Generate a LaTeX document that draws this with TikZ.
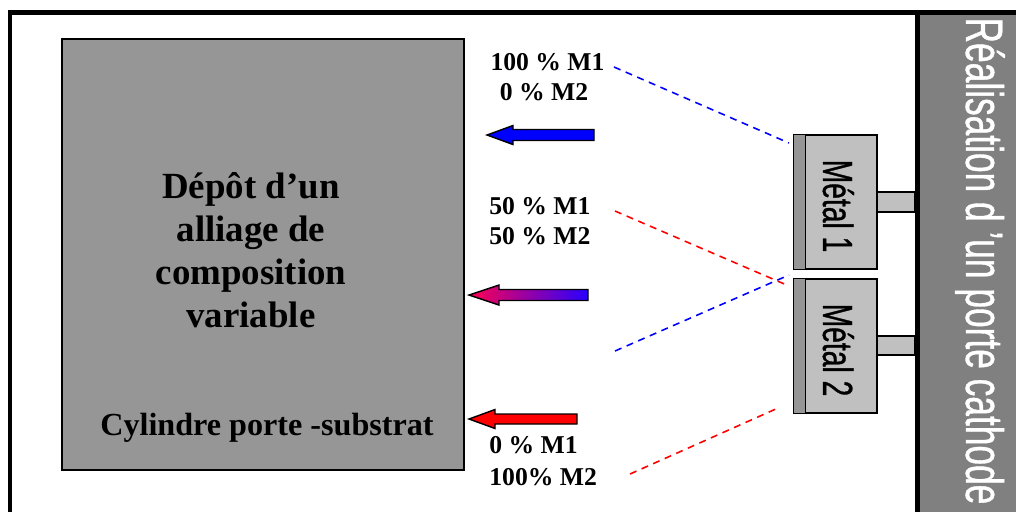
\documentclass[tikz,border=0pt]{standalone}
\usepackage{fontspec}
\setmainfont{Liberation Serif}
\setsansfont{Liberation Sans}
\newfontfamily\narrowsans[FakeStretch=0.67,FakeBold=0.7]{Liberation Sans}
\usepackage{tikz}
\usetikzlibrary{positioning,calc}
\definecolor{substratgray}{RGB}{150,150,150}
\definecolor{metalgray}{RGB}{192,192,192}
\definecolor{panelgray}{RGB}{128,128,128}
\definecolor{mixred}{RGB}{255,0,80}
\definecolor{mixblue}{RGB}{40,0,255}

\tikzset{
  pct/.style={font=\bfseries\fontsize{14.6}{17}\selectfont, inner sep=0pt},
  metal/.style={draw=black, fill=metalgray, line width=0.8pt, minimum width=1.66cm, minimum height=2.68cm, inner sep=0pt},
  metallabel/.style={font=\narrowsans\fontsize{24}{28}\selectfont, rotate=-90, anchor=base, inner sep=0pt},
  stub/.style={draw=black, fill=metalgray, line width=0.8pt},
  flux/.style={draw=black, line width=0.8pt},
  trace/.style={line width=0.9pt, dash pattern=on 4pt off 3.2pt},
}

\begin{document}
\begin{tikzpicture}[x=0.02cm,y=-0.02cm]
\useasboundingbox (0,0) rectangle (1016,512);
\fill[white] (0,0) rectangle (1016,512);

% porte cathode
\fill[panelgray] (920,15) rectangle (1016,512);
\node[font=\narrowsans\fontsize{30}{34}\selectfont, text=white, rotate=-90, anchor=base, inner sep=0pt] (porte) at (966,261) {Réalisation d ’un porte cathode};

% cadre
\draw[line width=0.1cm] (10,512) -- (10,12.5) -- (1016,12.5);
\draw[line width=0.1cm] (917.5,12.5) -- (917.5,512);

% cylindre porte-substrat
\node[draw=black, fill=substratgray, line width=0.9pt, minimum width=8.04cm, minimum height=8.62cm] (substrat) at (263,254.5) {};
\node[font=\bfseries\fontsize{21}{24.5}\selectfont, align=center] (depot) at (251,250) {Dépôt d’un\\alliage de\\composition\\variable};
\node[font=\bfseries\fontsize{18.3}{22}\selectfont, anchor=base, inner sep=0pt] (cyl) at (267,435) {Cylindre porte -substrat};

% compositions
\node[pct, anchor=base] (c1a) at (547.5,70) {100 \% M1};
\node[pct, anchor=base] (c1b) at (544,100) {0 \% M2};
\node[pct, anchor=base west] (c2a) at (489,214) {50 \% M1};
\node[pct, anchor=base west] (c2b) at (489,244) {50 \% M2};
\node[pct, anchor=base west] (c3a) at (489,453) {0 \% M1};
\node[pct, anchor=base west] (c3b) at (489,485) {100\% M2};

% fleches de flux
\draw[flux, fill=blue] (487,135) -- (513,125.5) -- (513,129.5) -- (594,129.5) -- (594,140.5) -- (513,140.5) -- (513,144.5) -- cycle;
\draw[flux, left color=mixred, right color=mixblue] (469,295) -- (499,285) -- (499,289.5) -- (588,289.5) -- (588,300.5) -- (499,300.5) -- (499,305) -- cycle;
\draw[flux, fill=red] (469,419) -- (495,409.5) -- (495,414) -- (577,414) -- (577,424) -- (495,424) -- (495,428.5) -- cycle;

% cibles
\node[metal] (m1) at (835.5,202) {};
\fill[substratgray] (m1.north west) rectangle ($(m1.south west)+(12,0)$);
\draw[line width=0.8pt] ($(m1.north west)+(12,0)$) -- ($(m1.south west)+(12,0)$);
\draw[line width=0.8pt] (m1.north west) rectangle (m1.south east);
\node[metallabel] (l1) at (823,206) {Métal 1};

\node[metal] (m2) at (835.5,346) {};
\fill[substratgray] (m2.north west) rectangle ($(m2.south west)+(12,0)$);
\draw[line width=0.8pt] ($(m2.north west)+(12,0)$) -- ($(m2.south west)+(12,0)$);
\draw[line width=0.8pt] (m2.north west) rectangle (m2.south east);
\node[metallabel] (l2) at (823,350) {Métal 2};

\draw[stub] (m1.east |- 0,192) rectangle (915,212);
\draw[stub] (m2.east |- 0,336) rectangle (915,355);

% trajets
\coordinate (b1s) at (614,67);
\coordinate (b1e) at (789,143);
\coordinate (r1s) at (615,211);
\coordinate (r1e) at (789,286);
\coordinate (b2s) at (615,351);
\coordinate (b2e) at (789,275);
\coordinate (r2s) at (630,474);
\coordinate (r2e) at (778,408);
\draw[trace, blue] (b1s) -- (b1e);
\draw[trace, red] (r1s) -- (r1e);
\draw[trace, blue] (b2s) -- (b2e);
\draw[trace, red] (r2s) -- (r2e);
\end{tikzpicture}
\end{document}
